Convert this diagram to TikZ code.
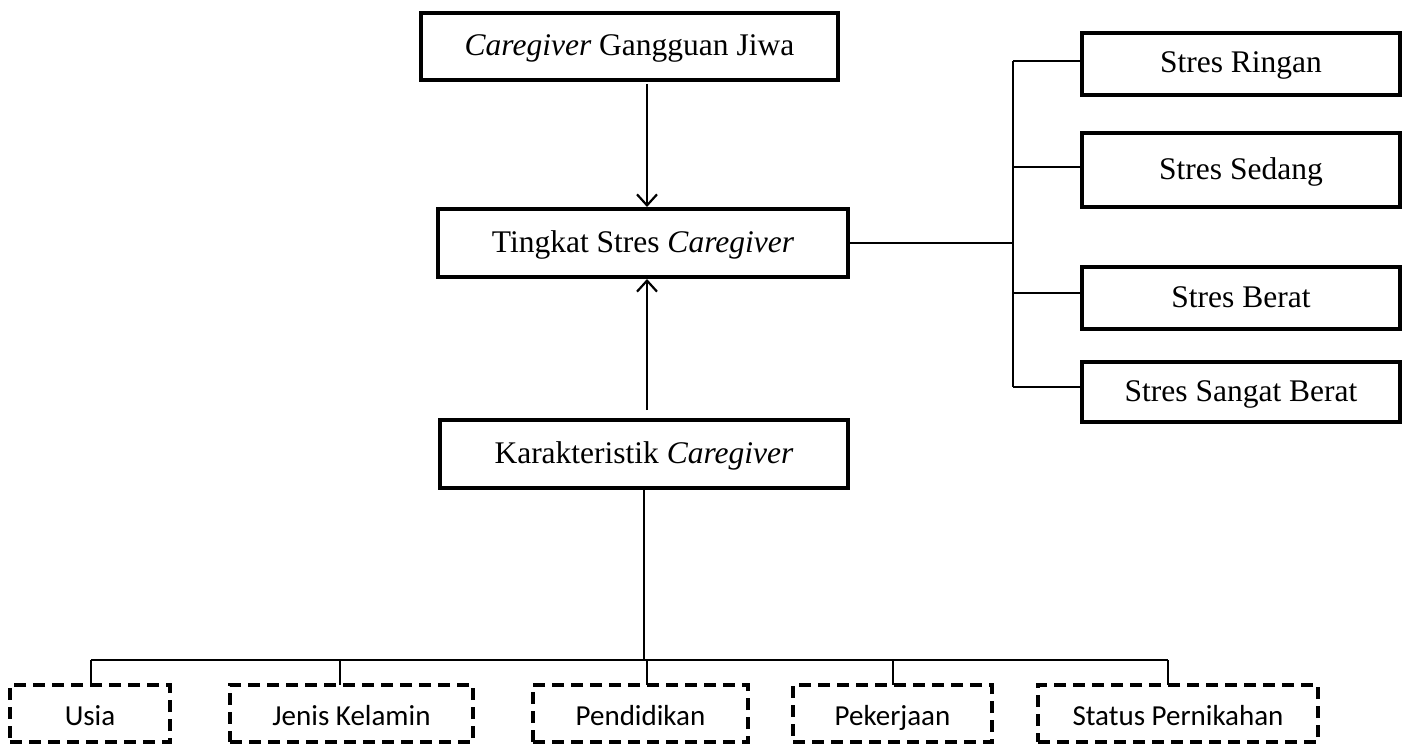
\documentclass[tikz,border=0pt]{standalone}
\usepackage{fontspec}
\setmainfont{Liberation Serif}
\newfontfamily\calfont{Carlito}
\usetikzlibrary{arrows.meta}
\begin{document}
\begin{tikzpicture}[x=1pt,y=-1pt,
  solidbox/.style={draw, line width=4.8pt, minimum height=#1, inner sep=0pt, text height=24pt, text depth=6pt, font=\fontsize{31.5}{34}\selectfont},
  solidbox/.default=62pt,
  dashbox/.style={draw, line width=4.8pt, dash pattern=on 12pt off 7pt, minimum height=57pt, inner sep=0pt, text height=26pt, text depth=3pt, font=\calfont\fontsize{29}{32}\selectfont},
  conn/.style={line width=2.2pt},
  arr/.style={line width=2.2pt, -{Straight Barb[length=11pt,width=20pt,line width=2.2pt]}}
]
\useasboundingbox (0,0) rectangle (1410,746);

\node[solidbox=67pt, minimum width=417pt] (gj) at (629.5,46.5) {\textit{Caregiver} Gangguan Jiwa};
\node[solidbox=68pt, minimum width=410pt] (ts) at (643,243) {Tingkat Stres \textit{Caregiver}};
\node[solidbox=68pt, minimum width=408pt] (kc) at (644,454) {Karakteristik \textit{Caregiver}};

\node[solidbox=62pt, minimum width=318pt] (sr) at (1241,64) {Stres Ringan};
\node[solidbox=74pt, minimum width=318pt] (ss) at (1241,170) {Stres Sedang};
\node[solidbox=62pt, minimum width=318pt] (sb) at (1241,298) {Stres Berat};
\node[solidbox=60pt, minimum width=318pt] (ssb) at (1241,392) {Stres Sangat Berat};

\node[dashbox, minimum width=160pt] (us) at (90,713.5) {Usia};
\node[dashbox, minimum width=243pt] (jk) at (351.5,713.5) {Jenis Kelamin};
\node[dashbox, minimum width=215pt] (pd) at (640.5,713.5) {Pendidikan};
\node[dashbox, minimum width=199pt] (pk) at (892.5,713.5) {Pekerjaan};
\node[dashbox, minimum width=280pt] (sp) at (1178,713.5) {Status Pernikahan};

% arrows
\coordinate (a1s) at (647,84);
\coordinate (a1e) at (647,207);
\draw[arr] (a1s) -- (a1e);
\coordinate (a2s) at (647,410);
\coordinate (a2e) at (647,279);
\draw[arr] (a2s) -- (a2e);

% right bus
\coordinate (rb) at (1013,243);
\coordinate (rtop) at (1013,61);
\coordinate (rbot) at (1013,387);
\draw[conn] (ts.east) -- (rb);
\draw[conn] (rtop) -- (rbot);
\draw[conn] (rtop) -- (rtop -| sr.west);
\draw[conn] (1013,167) -- (1082,167);
\draw[conn] (1013,293) -- (1082,293);
\draw[conn] (rbot) -- (rbot -| ssb.west);

% bottom bus
\coordinate (bk) at (644,660);
\draw[conn] (kc.south -| bk) -- (bk);
\draw[conn] (91,660) -- (1168,660);
\draw[conn] (91,660) -- (91,685);
\draw[conn] (340,660) -- (340,685);
\draw[conn] (647,660) -- (647,685);
\draw[conn] (893,660) -- (893,685);
\draw[conn] (1168,660) -- (1168,685);
\end{tikzpicture}
\end{document}
